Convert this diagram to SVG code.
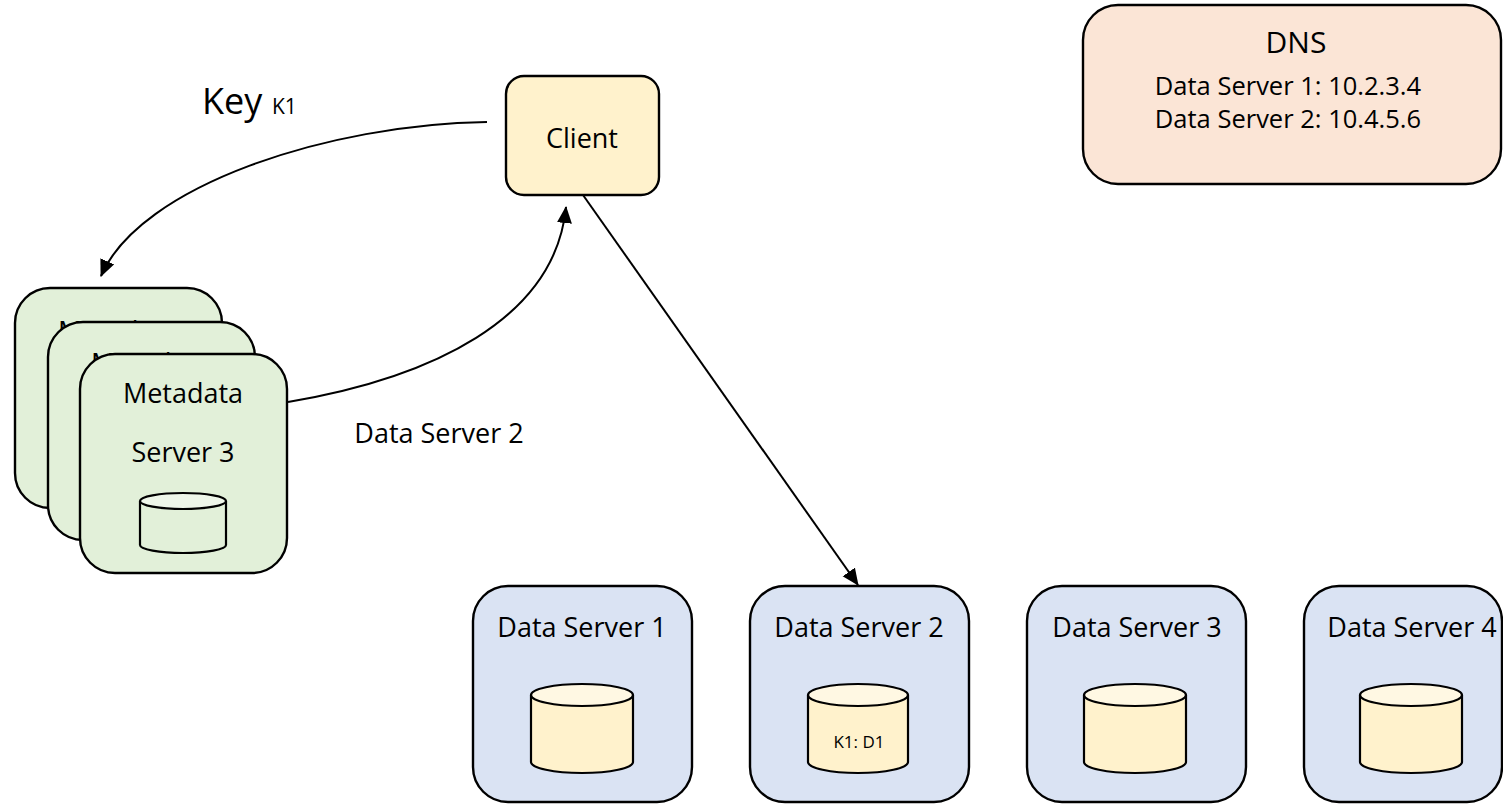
<svg xmlns="http://www.w3.org/2000/svg" width="1503" height="804" viewBox="0 0 1503 804">
<style>
text{font-family:"Open Sans","Noto Sans","Liberation Sans",sans-serif;fill:#000}
.box{stroke:#000;stroke-width:2.4}
.meta{fill:#E2F0D9}
.ds{fill:#DAE3F3}
.cli{fill:#FFF2CC}
.dns{fill:#FBE5D6}
.cylb{fill:#FFF2CC;stroke:#000;stroke-width:2.2}
.cylt{fill:#FFF8E3;stroke:#000;stroke-width:2.2}
.mcylb{fill:#E2F0D9;stroke:#000;stroke-width:2.2}
.mcylt{fill:#EEF6E9;stroke:#000;stroke-width:2.2}
.t27{font-size:27px}
.conn{fill:none;stroke:#000;stroke-width:2}
</style>
<defs>
<marker id="arr" markerUnits="userSpaceOnUse" markerWidth="18" markerHeight="16" refX="16" refY="7.5" orient="auto">
<path d="M0,0 L17,7.5 L0,15 z" fill="#000"/>
</marker>
</defs>
<rect width="1503" height="804" fill="#fff"/>

<g id="metadata-server-1">
<rect class="box meta" x="15" y="288" width="207" height="220" rx="35"/>
<text class="t27" x="118" y="341" text-anchor="middle">Metadata</text>
</g>
<g id="metadata-server-2">
<rect class="box meta" x="48" y="322" width="207" height="218" rx="35"/>
<text class="t27" x="151" y="373" text-anchor="middle">Metadata</text>
</g>
<g id="metadata-server-3">
<rect class="box meta" x="80" y="354" width="207" height="219" rx="35"/>
<text class="t27" x="183" y="403" text-anchor="middle">Metadata</text>
<text class="t27" x="183" y="462" text-anchor="middle">Server 3</text>
<path class="mcylb" d="M140,501 L140,545 A43,8 0 0 0 226,545 L226,501"/>
<ellipse class="mcylt" cx="183" cy="501" rx="43" ry="8"/>
</g>

<g id="client">
<rect class="box cli" x="506" y="76" width="153" height="119" rx="18"/>
<text class="t27" x="582" y="148" text-anchor="middle">Client</text>
</g>

<g id="dns">
<rect class="box dns" x="1083" y="5" width="418" height="179" rx="35"/>
<text x="1296" y="53" text-anchor="middle" font-size="30">DNS</text>
<text x="1288" y="95" text-anchor="middle" font-size="25.5">Data Server 1: 10.2.3.4</text>
<text x="1288" y="128" text-anchor="middle" font-size="25.5">Data Server 2: 10.4.5.6</text>
</g>

<g id="data-server-1">
<rect class="box ds" x="473" y="586" width="219" height="216" rx="35"/>
<text class="t27" x="582" y="637" text-anchor="middle">Data Server 1</text>
<path class="cylb" d="M531,695 L531,762 A51,11 0 0 0 633,762 L633,695"/>
<ellipse class="cylt" cx="582" cy="695" rx="51" ry="11"/>
</g>
<g id="data-server-2">
<rect class="box ds" x="750" y="586" width="219" height="216" rx="35"/>
<text class="t27" x="859" y="637" text-anchor="middle">Data Server 2</text>
<path class="cylb" d="M808,695 L808,762 A50,11 0 0 0 908,762 L908,695"/>
<ellipse class="cylt" cx="858" cy="695" rx="50" ry="11"/>
<text x="859" y="748" text-anchor="middle" font-size="17">K1: D1</text>
</g>
<g id="data-server-3">
<rect class="box ds" x="1027" y="586" width="219" height="216" rx="35"/>
<text class="t27" x="1137" y="637" text-anchor="middle">Data Server 3</text>
<path class="cylb" d="M1084,695 L1084,762 A51,11 0 0 0 1186,762 L1186,695"/>
<ellipse class="cylt" cx="1135" cy="695" rx="51" ry="11"/>
</g>
<g id="data-server-4">
<rect class="box ds" x="1304" y="586" width="198" height="216" rx="35"/>
<text class="t27" x="1412" y="637" text-anchor="middle">Data Server 4</text>
<path class="cylb" d="M1360,695 L1360,762 A51,11 0 0 0 1462,762 L1462,695"/>
<ellipse class="cylt" cx="1411" cy="695" rx="51" ry="11"/>
</g>

<g id="connectors">
<path class="conn" d="M487,122 C330,124 140,185 101,276" marker-end="url(#arr)"/>
<path class="conn" d="M288,402 C430,378 555,320 566,207" marker-end="url(#arr)"/>
<path class="conn" d="M583,195 L858,585" marker-end="url(#arr)"/>
</g>

<g id="labels">
<text x="202" y="114" font-size="36">Key</text>
<text x="272" y="114" font-size="21">K1</text>
<text class="t27" x="439" y="443" text-anchor="middle">Data Server 2</text>
</g>
</svg>
